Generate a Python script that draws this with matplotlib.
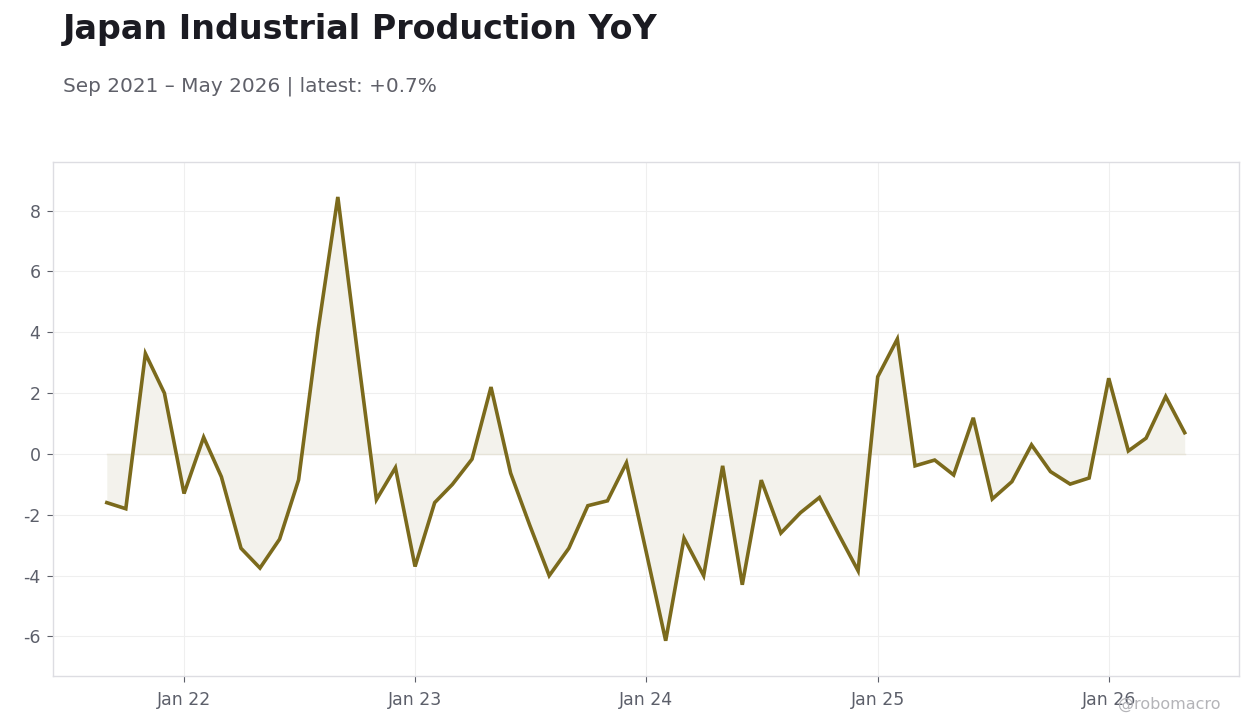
import numpy as np
import pandas as pd
import matplotlib
matplotlib.use("Agg")
import matplotlib.pyplot as plt
import matplotlib.dates as mdates

# Japan industrial production, % change year on year (monthly)
start_month = "2021-09-01"
yoy_values = [
    -1.6, -1.8, 3.3, 2.0,                                         # 2021 Sep-Dec
    -1.3, 0.55, -0.75, -3.1, -3.75, -2.8, -0.85, 4.1, 8.45, 3.5, -1.5, -0.45,   # 2022
    -3.7, -1.6, -1.0, -0.17, 2.2, -0.63, -2.33, -4.0, -3.1, -1.7, -1.54, -0.29, # 2023
    -3.2, -6.14, -2.77, -4.0, -0.39, -4.3, -0.86, -2.6, -1.93, -1.43, -2.67, -3.84, # 2024
    2.54, 3.78, -0.39, -0.2, -0.69, 1.19, -1.48, -0.91, 0.3, -0.58, -0.99, -0.79,   # 2025
    2.49, 0.1, 0.52, 1.89, 0.7,                                   # 2026 Jan-May
]
dates = pd.date_range(start_month, periods=len(yoy_values), freq="MS")
yoy = np.array(yoy_values)

title = "Japan Industrial Production YoY"
subtitle = "Sep 2021 \u2013 May 2026 | latest: +0.7%"

plt.rcParams["font.family"] = ["DejaVu Sans"]
plt.rcParams["axes.unicode_minus"] = False

line_color = "#7b6a1c"
fig = plt.figure(figsize=(12.6, 7.28), dpi=100)
ax = fig.add_axes([0.042, 0.0714, 0.941, 0.7061])

ax.fill_between(dates, yoy, 0, color="#f3f2ec", linewidth=0, zorder=1)
ax.axhline(0, color="#e6e3d8", linewidth=1.0, zorder=1.5,
           xmin=0.0455, xmax=0.9545)
ax.plot(dates, yoy, color=line_color, linewidth=2.6, zorder=3,
        solid_joinstyle="miter")

ax.set_ylim(-7.3, 9.6)
ax.set_yticks([-6, -4, -2, 0, 2, 4, 6, 8])
ax.margins(x=0.05)

ax.xaxis.set_major_locator(mdates.MonthLocator(bymonth=1))
ax.xaxis.set_major_formatter(mdates.DateFormatter("Jan %y"))

ax.grid(True, color="#efefef", linewidth=0.8, zorder=0)
ax.set_axisbelow(True)
for s in ax.spines.values():
    s.set_color("#dddde2")
    s.set_linewidth(1.0)
ax.tick_params(axis="both", colors="#5c5f6a", labelsize=12.5, length=4,
               width=0.8, labelcolor="#5c5f6a")
ax.tick_params(axis="x", pad=7)
ax.tick_params(axis="y", pad=5)

fig.text(0.05, 0.96, title, fontsize=24, fontweight="bold", color="#1b1b22",
         ha="left", va="center")
fig.text(0.05, 0.882, subtitle, fontsize=14.4, color="#5f6069",
         ha="left", va="center")
fig.text(0.928, 0.032, "@robomacro", fontsize=11.5, color="#b4b4b8",
         ha="center", va="center")

fig.savefig("out.png", dpi=100, facecolor="white")
